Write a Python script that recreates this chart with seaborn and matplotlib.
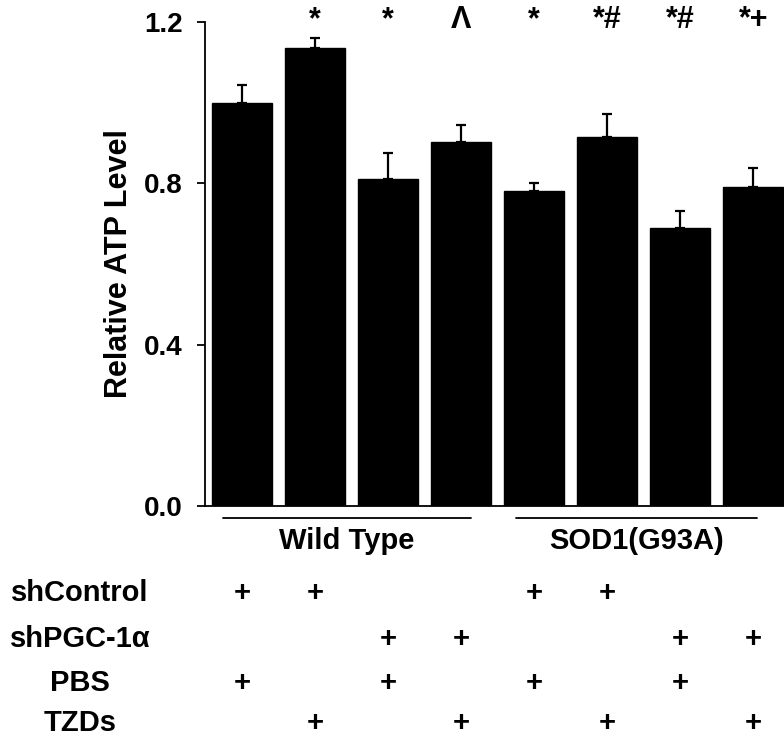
import matplotlib
matplotlib.use("Agg")
import matplotlib.pyplot as plt
import matplotlib.transforms as mtransforms
import seaborn as sns
import pandas as pd
import numpy as np

# ---- data ----
conditions = ["WT-shCtrl-PBS", "WT-shCtrl-TZD", "WT-shPGC-PBS", "WT-shPGC-TZD",
              "SOD-shCtrl-PBS", "SOD-shCtrl-TZD", "SOD-shPGC-PBS", "SOD-shPGC-TZD"]
atp_mean = [1.00, 1.135, 0.812, 0.902, 0.781, 0.916, 0.689, 0.792]
atp_err = [0.045, 0.026, 0.064, 0.043, 0.021, 0.055, 0.043, 0.045]
sig_marks = ["", "*", "*", "^", "*", "*#", "*#", "*+"]
groups = ["Wild Type", "SOD1(G93A)"]
row_labels = ["shControl", "shPGC-1\u03b1", "PBS", "TZDs"]
row_shControl = [1, 1, 0, 0, 1, 1, 0, 0]
row_shPGC = [0, 0, 1, 1, 0, 0, 1, 1]
row_PBS = [1, 0, 1, 0, 1, 0, 1, 0]
row_TZDs = [0, 1, 0, 1, 0, 1, 0, 1]
yticks = [0.0, 0.4, 0.8, 1.2]

sns.set_style("ticks")
plt.rcParams['font.family'] = ['Liberation Sans', 'DejaVu Sans']
plt.rcParams['text.color'] = 'black'
plt.rcParams['axes.labelcolor'] = 'black'
plt.rcParams['xtick.color'] = 'black'
plt.rcParams['ytick.color'] = 'black'
plt.rcParams['axes.edgecolor'] = 'black'

fig = plt.figure(figsize=(7.84, 7.38), dpi=100)
ax = fig.add_axes([0.2615, 0.3144, 0.7385, 0.6556])

df = pd.DataFrame({"cond": conditions, "atp": atp_mean})
sns.barplot(data=df, x="cond", y="atp", color="black", saturation=1,
            width=0.82, errorbar=None, ax=ax, edgecolor="black")
xs = np.arange(len(conditions))
ax.errorbar(xs, atp_mean, yerr=[np.zeros(len(atp_err)), atp_err], fmt="none",
            ecolor="black", elinewidth=1.6, capsize=3.5, capthick=1.6, clip_on=False)

ax.set_ylim(0, 1.2)
ax.set_xlim(-0.51, 7.42)
ax.set_yticks(yticks)
ax.set_yticklabels([f"{v:.1f}" for v in yticks], fontsize=20, fontweight="bold")
ax.set_xticks([])
ax.set_xlabel("")
ax.set_ylabel("Relative ATP Level", fontsize=22, fontweight="bold", labelpad=7)
for s in ["top", "right"]:
    ax.spines[s].set_visible(False)
ax.spines["left"].set_linewidth(1.3)
ax.spines["bottom"].set_linewidth(1.3)
ax.tick_params(axis="y", direction="out", length=6, width=1.3, pad=10)

# significance marks
for x, m in zip(xs, sig_marks):
    if m:
        txt = m.replace("^", "\u039b")
        ax.text(x, 1.205, txt, ha="center", va="center", fontsize=22,
                fontweight="bold", clip_on=False)

# group lines and labels
trans = ax.get_xaxis_transform()
for (x0, x1), g in zip([(-0.27, 3.13), (3.75, 7.05)], groups):
    ax.plot([x0, x1], [-0.025, -0.025], color="black", lw=1.3, transform=trans, clip_on=False)
    ax.text((x0 + x1) / 2, -0.073, g, transform=trans, ha="center", va="center",
            fontsize=21, fontweight="bold", clip_on=False)

rows = [row_shControl, row_shPGC, row_PBS, row_TZDs]
row_y = [-0.18, -0.275, -0.366, -0.448]
lab_trans = mtransforms.blended_transform_factory(fig.transFigure, ax.transAxes)
for lab, r, yy in zip(row_labels, rows, row_y):
    fig.text(80 / 784, yy, lab, fontsize=21, fontweight="bold", ha="center",
             va="center", transform=lab_trans)
    for x, v in zip(xs, r):
        if v:
            ax.text(x, yy, "+", transform=trans, ha="center", va="center",
                    fontsize=21, fontweight="bold", clip_on=False)

fig.savefig("out.png", dpi=100)
